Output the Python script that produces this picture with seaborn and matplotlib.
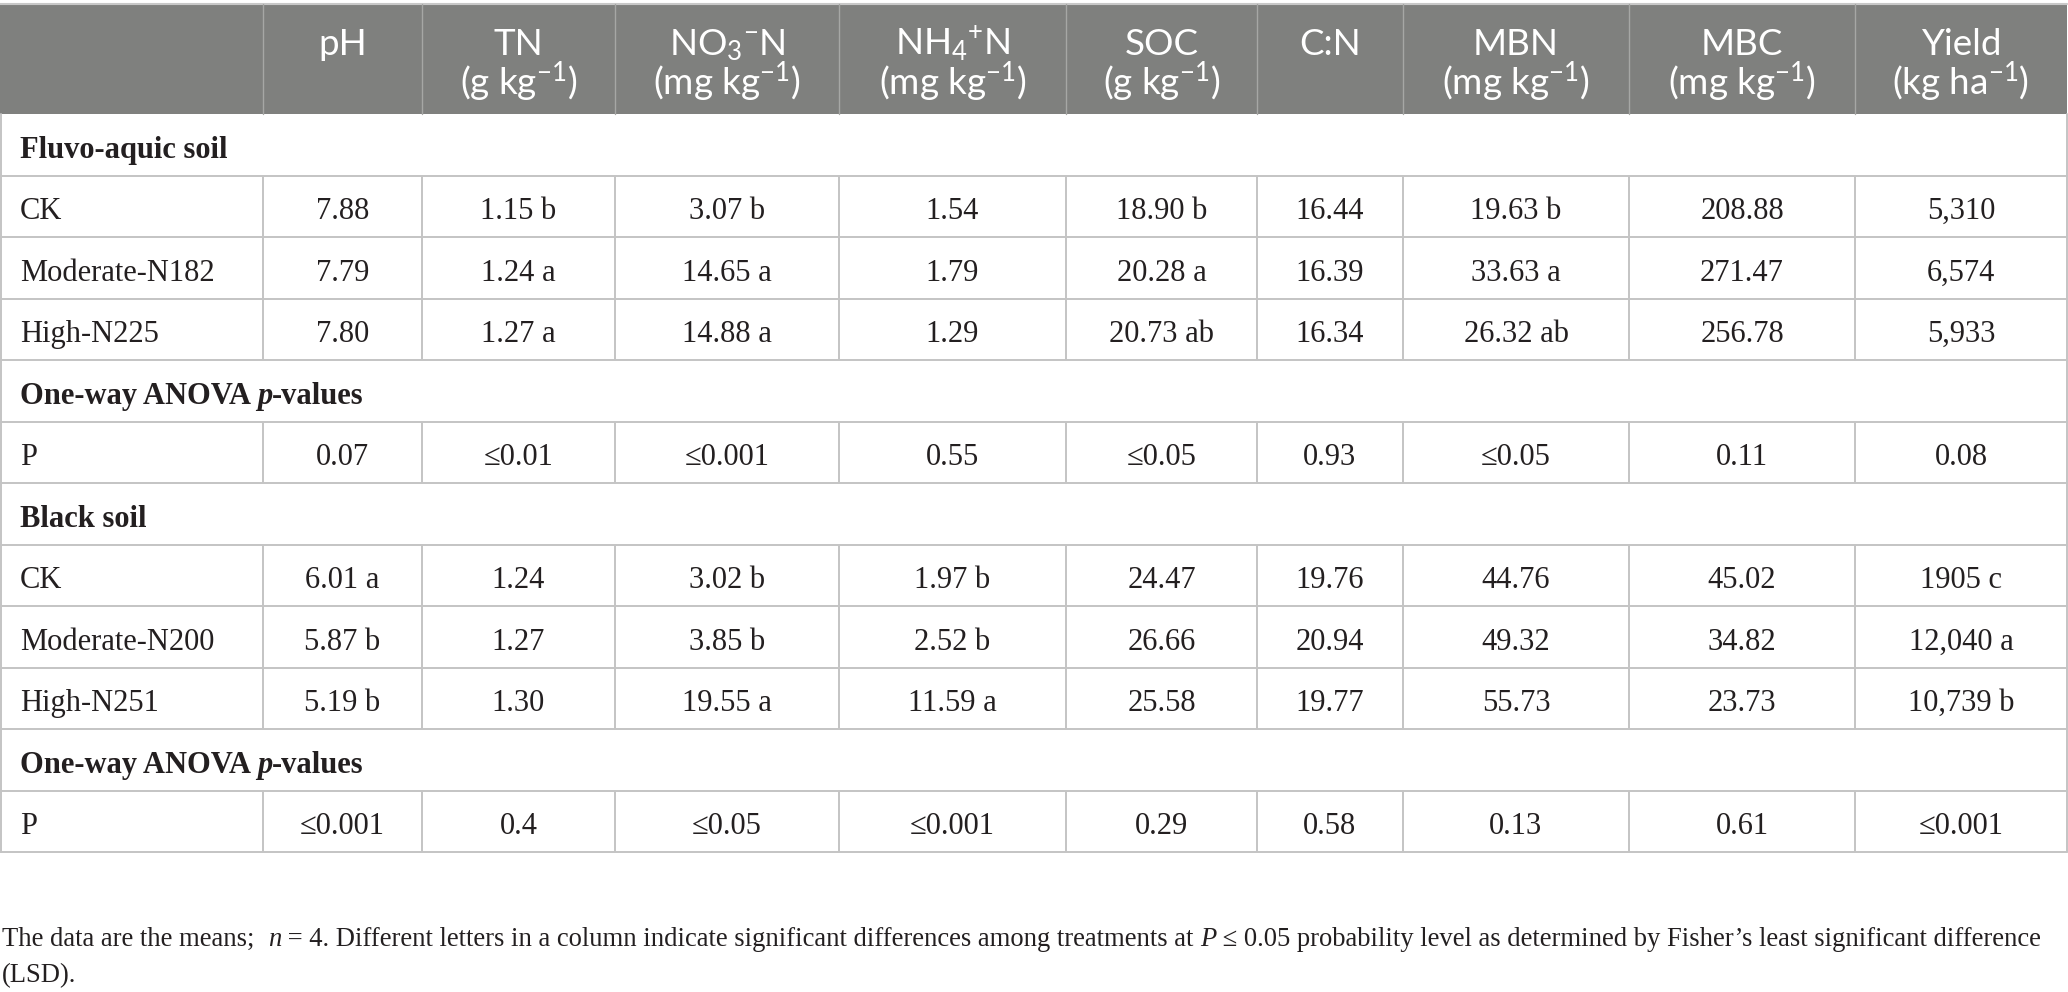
import matplotlib
matplotlib.use("Agg")
import matplotlib.pyplot as plt
import seaborn as sns
import pandas as pd

# ---------------- data ----------------
param_names = ["pH", "TN", "NO3-N", "NH4-N", "SOC", "C:N", "MBN", "MBC", "Yield"]
header_line1 = ["pH", "TN", r"NO$_{3}{}^{-}$N", r"NH$_{4}{}^{+}$N", "SOC", "C:N", "MBN", "MBC", "Yield"]
header_line2 = ["", r"(g kg$^{-1}$)", r"(mg kg$^{-1}$)", r"(mg kg$^{-1}$)", r"(g kg$^{-1}$)", "",
                r"(mg kg$^{-1}$)", r"(mg kg$^{-1}$)", r"(kg ha$^{-1}$)"]

fluvo_treatments = ["CK", "Moderate-N182", "High-N225"]
fluvo_pH = ["7.88", "7.79", "7.80"]
fluvo_TN = ["1.15 b", "1.24 a", "1.27 a"]
fluvo_NO3 = ["3.07 b", "14.65 a", "14.88 a"]
fluvo_NH4 = ["1.54", "1.79", "1.29"]
fluvo_SOC = ["18.90 b", "20.28 a", "20.73 ab"]
fluvo_CN = ["16.44", "16.39", "16.34"]
fluvo_MBN = ["19.63 b", "33.63 a", "26.32 ab"]
fluvo_MBC = ["208.88", "271.47", "256.78"]
fluvo_yield = ["5,310", "6,574", "5,933"]
fluvo_p = ["0.07", "≤0.01", "≤0.001", "0.55", "≤0.05", "0.93", "≤0.05", "0.11", "0.08"]

black_treatments = ["CK", "Moderate-N200", "High-N251"]
black_pH = ["6.01 a", "5.87 b", "5.19 b"]
black_TN = ["1.24", "1.27", "1.30"]
black_NO3 = ["3.02 b", "3.85 b", "19.55 a"]
black_NH4 = ["1.97 b", "2.52 b", "11.59 a"]
black_SOC = ["24.47", "26.66", "25.58"]
black_CN = ["19.76", "20.94", "19.77"]
black_MBN = ["44.76", "49.32", "55.73"]
black_MBC = ["45.02", "34.82", "23.73"]
black_yield = ["1905 c", "12,040 a", "10,739 b"]
black_p = ["≤0.001", "0.4", "≤0.05", "≤0.001", "0.29", "0.58", "0.13", "0.61", "≤0.001"]

fluvo_df = pd.DataFrame(dict(zip(param_names, [fluvo_pH, fluvo_TN, fluvo_NO3, fluvo_NH4, fluvo_SOC,
                                              fluvo_CN, fluvo_MBN, fluvo_MBC, fluvo_yield])),
                        index=fluvo_treatments)
black_df = pd.DataFrame(dict(zip(param_names, [black_pH, black_TN, black_NO3, black_NH4, black_SOC,
                                              black_CN, black_MBN, black_MBC, black_yield])),
                        index=black_treatments)
sections = [("Fluvo-aquic soil", fluvo_df, fluvo_p), ("Black soil", black_df, black_p)]

# ---------------- layout / style ----------------
sns.set_theme(style="white")
plt.rcParams['font.family'] = ['Liberation Serif', 'DejaVu Serif']
plt.rcParams['mathtext.fontset'] = 'custom'
plt.rcParams['mathtext.rm'] = 'Lato'
plt.rcParams['mathtext.it'] = 'Lato:italic'
plt.rcParams['mathtext.bf'] = 'Lato:bold'

W, H = 2068, 992
col_edges = [0, 263, 422, 615, 839, 1066, 1257, 1403, 1629, 1855, 2067]
head_top, head_bot = 4, 114
row_h = 61.5
grid_col = "#c4c4c4"
head_bg = "#7f807e"
head_line = "#a6a7a5"
body_size = 22
head_size = 26.5
text_col = "#231f20"

fig = plt.figure(figsize=(W / 100, H / 100), dpi=100)
ax = fig.add_axes([0, 0, 1, 1])
ax.set_xlim(0, W)
ax.set_ylim(H, 0)
ax.axis("off")
renderer = fig.canvas.get_renderer()

# header
ax.add_patch(plt.Rectangle((0, head_top), col_edges[-1], head_bot - head_top, color=head_bg, lw=0))
ax.plot([0, col_edges[-1]], [head_top, head_top], color="#c8c8c8", lw=1.5)
for xe in col_edges[1:-1]:
    ax.plot([xe, xe], [head_top, head_bot], color=head_line, lw=1.0)
for i in range(len(param_names)):
    cx = (col_edges[i + 1] + col_edges[i + 2]) / 2
    ax.text(cx, 55, header_line1[i], ha="center", va="baseline", color="white",
            fontsize=head_size, family=["Lato", "DejaVu Sans"])
    if header_line2[i]:
        ax.text(cx, 95, header_line2[i], ha="center", va="baseline", color="white",
                fontsize=head_size, family=["Lato", "DejaVu Sans"])


def draw_segments(x, y, segments, size):
    for txt, kw in segments:
        t = ax.text(x, y, txt, fontsize=size, ha="left", va="center_baseline", color=text_col, **kw)
        bb = t.get_window_extent(renderer=renderer)
        x += bb.width
    return x


# body
row_kinds = []
for title, df, pvals in sections:
    row_kinds.append(("title", title))
    for tr in df.index:
        row_kinds.append(("data", [tr] + list(df.loc[tr])))
    row_kinds.append(("anova", None))
    row_kinds.append(("data", ["P"] + list(pvals)))

y0 = head_bot
for kind, content in row_kinds:
    y1 = y0 + row_h
    cy = (y0 + y1) / 2 + 2
    if kind == "title":
        draw_segments(20, cy, [(content, dict(weight="bold"))], body_size)
    elif kind == "anova":
        draw_segments(20, cy, [("One-way ANOVA ", dict(weight="bold")),
                               ("p", dict(weight="bold", style="italic")),
                               ("-values", dict(weight="bold"))], body_size)
    else:
        ax.text(20, cy, content[0], ha="left", va="center_baseline", fontsize=body_size, color=text_col)
        for j, val in enumerate(content[1:]):
            cx = (col_edges[j + 1] + col_edges[j + 2]) / 2
            ax.text(cx, cy, val, ha="center", va="center_baseline", fontsize=body_size, color=text_col)
        for xe in col_edges[1:-1]:
            ax.plot([xe, xe], [y0, y1], color=grid_col, lw=1.4, solid_capstyle="butt")
    ax.plot([0, col_edges[-1]], [y1, y1], color=grid_col, lw=1.4)
    y0 = y1

ax.plot([0.8, 0.8], [head_bot, y0], color=grid_col, lw=1.4)
ax.plot([col_edges[-1], col_edges[-1]], [head_bot, y0], color=grid_col, lw=1.4)

# footnote
foot_size = 19.2
draw_segments(2, 936, [("The data are the means;  ", {}), ("n", dict(style="italic")),
                       (" = 4. Different letters in a column indicate significant differences among treatments at ", {}),
                       ("P", dict(style="italic")),
                       (" ≤ 0.05 probability level as determined by Fisher’s least significant difference", {})],
              foot_size)
draw_segments(2, 973, [("(LSD).", {})], foot_size)

fig.savefig("out.png", dpi=100)
